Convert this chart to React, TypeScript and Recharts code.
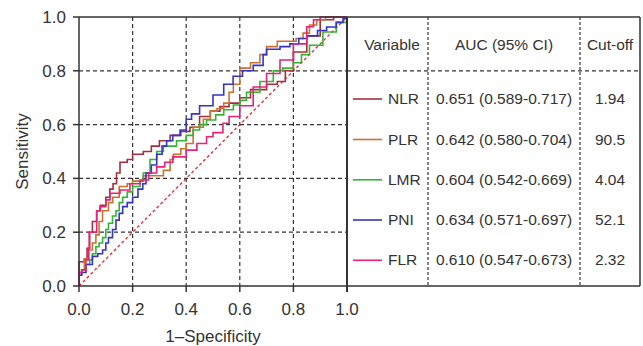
import React from 'react';
import { LineChart, Line, XAxis, YAxis, CartesianGrid } from 'recharts';

type Pt = { x: number; y: number };

// ROC points (1-specificity, sensitivity)
const nlr: Pt[] = [
  { x: 0, y: 0 }, { x: 0, y: 0.09 }, { x: 0.02, y: 0.1 }, { x: 0.03, y: 0.14 }, { x: 0.04, y: 0.2 },
  { x: 0.05, y: 0.24 }, { x: 0.066, y: 0.28 }, { x: 0.08, y: 0.3 }, { x: 0.1, y: 0.33 }, { x: 0.115, y: 0.36 },
  { x: 0.127, y: 0.38 }, { x: 0.14, y: 0.42 }, { x: 0.153, y: 0.46 }, { x: 0.18, y: 0.47 }, { x: 0.2, y: 0.49 },
  { x: 0.24, y: 0.5 }, { x: 0.27, y: 0.52 }, { x: 0.3, y: 0.54 }, { x: 0.34, y: 0.56 }, { x: 0.38, y: 0.575 },
  { x: 0.414, y: 0.59 }, { x: 0.45, y: 0.63 }, { x: 0.49, y: 0.65 }, { x: 0.526, y: 0.667 }, { x: 0.56, y: 0.68 },
  { x: 0.6, y: 0.7 }, { x: 0.64, y: 0.73 }, { x: 0.7, y: 0.75 }, { x: 0.74, y: 0.76 }, { x: 0.77, y: 0.8 },
  { x: 0.8, y: 0.87 }, { x: 0.85, y: 0.93 }, { x: 0.9, y: 0.99 }, { x: 0.95, y: 1 }, { x: 1, y: 1 },
];
const plr: Pt[] = [
  { x: 0, y: 0 }, { x: 0, y: 0.04 }, { x: 0.01, y: 0.06 }, { x: 0.02, y: 0.1 }, { x: 0.037, y: 0.134 },
  { x: 0.05, y: 0.16 }, { x: 0.063, y: 0.19 }, { x: 0.075, y: 0.24 }, { x: 0.088, y: 0.28 }, { x: 0.11, y: 0.31 },
  { x: 0.126, y: 0.33 }, { x: 0.15, y: 0.37 }, { x: 0.18, y: 0.38 }, { x: 0.2, y: 0.39 }, { x: 0.24, y: 0.41 },
  { x: 0.3, y: 0.41 }, { x: 0.315, y: 0.43 }, { x: 0.34, y: 0.47 }, { x: 0.352, y: 0.49 }, { x: 0.38, y: 0.51 },
  { x: 0.4, y: 0.53 }, { x: 0.426, y: 0.59 }, { x: 0.464, y: 0.62 }, { x: 0.49, y: 0.65 }, { x: 0.515, y: 0.66 },
  { x: 0.54, y: 0.68 }, { x: 0.56, y: 0.72 }, { x: 0.576, y: 0.75 }, { x: 0.6, y: 0.81 }, { x: 0.64, y: 0.83 },
  { x: 0.675, y: 0.86 }, { x: 0.7, y: 0.89 }, { x: 0.74, y: 0.91 }, { x: 0.81, y: 0.92 }, { x: 0.836, y: 0.94 },
  { x: 0.86, y: 0.97 }, { x: 0.887, y: 0.99 }, { x: 0.92, y: 1 }, { x: 1, y: 1 },
];
const lmr: Pt[] = [
  { x: 0, y: 0 }, { x: 0, y: 0.05 }, { x: 0.01, y: 0.06 }, { x: 0.025, y: 0.08 }, { x: 0.04, y: 0.097 },
  { x: 0.05, y: 0.12 }, { x: 0.063, y: 0.146 }, { x: 0.075, y: 0.16 }, { x: 0.088, y: 0.18 }, { x: 0.1, y: 0.21 },
  { x: 0.11, y: 0.233 }, { x: 0.125, y: 0.26 }, { x: 0.138, y: 0.28 }, { x: 0.15, y: 0.31 }, { x: 0.163, y: 0.33 },
  { x: 0.18, y: 0.35 }, { x: 0.2, y: 0.37 }, { x: 0.228, y: 0.39 }, { x: 0.24, y: 0.42 }, { x: 0.265, y: 0.47 },
  { x: 0.29, y: 0.5 }, { x: 0.315, y: 0.52 }, { x: 0.364, y: 0.54 }, { x: 0.4, y: 0.56 }, { x: 0.426, y: 0.58 },
  { x: 0.45, y: 0.6 }, { x: 0.476, y: 0.617 }, { x: 0.51, y: 0.636 }, { x: 0.54, y: 0.655 }, { x: 0.576, y: 0.673 },
  { x: 0.6, y: 0.69 }, { x: 0.625, y: 0.72 }, { x: 0.675, y: 0.76 }, { x: 0.725, y: 0.8 }, { x: 0.76, y: 0.81 },
  { x: 0.8, y: 0.83 }, { x: 0.83, y: 0.86 }, { x: 0.86, y: 0.895 }, { x: 0.91, y: 0.944 }, { x: 0.96, y: 0.98 },
  { x: 1, y: 1 },
];
const pni: Pt[] = [
  { x: 0, y: 0 }, { x: 0, y: 0.04 }, { x: 0.01, y: 0.05 }, { x: 0.026, y: 0.08 }, { x: 0.05, y: 0.11 },
  { x: 0.07, y: 0.12 }, { x: 0.088, y: 0.134 }, { x: 0.1, y: 0.16 }, { x: 0.11, y: 0.18 }, { x: 0.125, y: 0.21 },
  { x: 0.138, y: 0.245 }, { x: 0.15, y: 0.27 }, { x: 0.163, y: 0.295 }, { x: 0.18, y: 0.31 }, { x: 0.2, y: 0.33 },
  { x: 0.22, y: 0.36 }, { x: 0.238, y: 0.38 }, { x: 0.25, y: 0.42 }, { x: 0.27, y: 0.45 }, { x: 0.29, y: 0.49 },
  { x: 0.31, y: 0.52 }, { x: 0.327, y: 0.54 }, { x: 0.35, y: 0.56 }, { x: 0.377, y: 0.58 }, { x: 0.4, y: 0.62 },
  { x: 0.42, y: 0.64 }, { x: 0.45, y: 0.67 }, { x: 0.5, y: 0.71 }, { x: 0.54, y: 0.75 }, { x: 0.575, y: 0.78 },
  { x: 0.61, y: 0.8 }, { x: 0.65, y: 0.82 }, { x: 0.687, y: 0.86 }, { x: 0.7, y: 0.88 }, { x: 0.75, y: 0.89 },
  { x: 0.787, y: 0.9 }, { x: 0.82, y: 0.92 }, { x: 0.85, y: 0.93 }, { x: 0.89, y: 0.95 }, { x: 0.924, y: 0.963 },
  { x: 0.96, y: 0.98 }, { x: 0.985, y: 0.995 }, { x: 1, y: 1 },
];
const flr: Pt[] = [
  { x: 0, y: 0 }, { x: 0, y: 0.05 }, { x: 0.01, y: 0.06 }, { x: 0.026, y: 0.097 }, { x: 0.035, y: 0.14 },
  { x: 0.038, y: 0.2 }, { x: 0.055, y: 0.2 }, { x: 0.066, y: 0.28 }, { x: 0.078, y: 0.295 }, { x: 0.1, y: 0.32 },
  { x: 0.116, y: 0.345 }, { x: 0.153, y: 0.357 }, { x: 0.19, y: 0.38 }, { x: 0.228, y: 0.394 }, { x: 0.26, y: 0.42 },
  { x: 0.29, y: 0.443 }, { x: 0.32, y: 0.46 }, { x: 0.35, y: 0.48 }, { x: 0.4, y: 0.505 }, { x: 0.44, y: 0.53 },
  { x: 0.476, y: 0.555 }, { x: 0.5, y: 0.57 }, { x: 0.537, y: 0.605 }, { x: 0.56, y: 0.63 }, { x: 0.6, y: 0.67 },
  { x: 0.65, y: 0.74 }, { x: 0.7, y: 0.79 }, { x: 0.75, y: 0.84 }, { x: 0.8, y: 0.9 }, { x: 0.85, y: 0.964 },
  { x: 0.875, y: 0.99 }, { x: 0.9, y: 1 }, { x: 1, y: 1 },
];
const diagonal: Pt[] = [{ x: 0, y: 0 }, { x: 1, y: 1 }];

const ticks = [0, 0.2, 0.4, 0.6, 0.8, 1];

const variables = ['NLR', 'PLR', 'LMR', 'PNI', 'FLR'];
const aucs = [
  '0.651 (0.589-0.717)',
  '0.642 (0.580-0.704)',
  '0.604 (0.542-0.669)',
  '0.634 (0.571-0.697)',
  '0.610 (0.547-0.673)',
];
const cutoffs = ['1.94', '90.5', '4.04', '52.1', '2.32'];
const colors = ['#a3303c', '#c8742f', '#33b533', '#3535c4', '#e42478'];
const curves = [nlr, plr, lmr, pni, flr];

const W = 643;
const H = 346;
const left = 79;
const top = 17;
const plotRight = 347;
const plotBottom = 286;
const tableRight = 640;
const font = '"Liberation Sans", Arial, Helvetica, sans-serif';
const ink = '#333';

const yPix = (v: number) => top + (plotBottom - top) * (1 - v);

function Table() {
  const col1 = 428;
  const col2 = 580;
  const rowY = [99, 139.5, 179.8, 220, 260.3];
  return (
    <svg width={W} height={H} style={{ position: 'absolute', left: 0, top: 0, pointerEvents: 'none' }}>
      <g stroke={ink} fill="none">
        <line x1={left} y1={top} x2={tableRight} y2={top} strokeWidth={1.5} />
        <line x1={tableRight} y1={top} x2={tableRight} y2={plotBottom} strokeWidth={1.5} />
        <line x1={plotRight} y1={plotBottom} x2={tableRight} y2={plotBottom} strokeWidth={1.5} />
        <line x1={plotRight} y1={top} x2={plotRight} y2={plotBottom + 6} strokeWidth={2} />
        <line x1={plotRight} y1={yPix(0.8)} x2={tableRight} y2={yPix(0.8)} strokeWidth={1.2} strokeDasharray="4 3" />
        <line x1={col1} y1={top} x2={col1} y2={plotBottom} strokeWidth={1.2} strokeDasharray="3 2" />
        <line x1={col2} y1={top} x2={col2} y2={plotBottom} strokeWidth={1.2} strokeDasharray="3 2" />
      </g>
      <g fontFamily={font} fontSize={15.5} fill={ink}>
        <text x={392} y={44} textAnchor="middle" dominantBaseline="central">Variable</text>
        <text x={504} y={44} textAnchor="middle" dominantBaseline="central">AUC (95% CI)</text>
        <text x={610} y={44} textAnchor="middle" dominantBaseline="central">Cut-off</text>
        {variables.map((v, i) => (
          <g key={v}>
            <line x1={353} x2={382} y1={rowY[i]} y2={rowY[i]} stroke={colors[i]} strokeWidth={1.6} />
            <text x={388} y={rowY[i] - 0.5} dominantBaseline="central">{v}</text>
            <text x={504} y={rowY[i] - 0.5} textAnchor="middle" dominantBaseline="central">{aucs[i]}</text>
            <text x={610} y={rowY[i] - 0.5} textAnchor="middle" dominantBaseline="central">{cutoffs[i]}</text>
          </g>
        ))}
      </g>
    </svg>
  );
}

export default function App() {
  const tickStyle = { fontSize: 17, fill: ink, fontFamily: font };
  return (
    <div style={{ position: 'absolute', left: 0, top: 0, width: W, height: H, background: '#fff' }}>
      <LineChart
        width={W}
        height={H}
        margin={{ top, right: W - plotRight, bottom: 0, left: 0 }}
      >
        <CartesianGrid stroke={ink} strokeDasharray="4 3" strokeWidth={1.2} verticalPoints={[]} horizontalPoints={[]}
          horizontalValues={[0.2, 0.4, 0.6, 0.8]} verticalValues={[0.2, 0.4, 0.6, 0.8]} />
        <XAxis
          type="number"
          dataKey="x"
          domain={[0, 1]}
          ticks={ticks}
          tickFormatter={(v: number) => v.toFixed(1)}
          height={H - plotBottom}
          stroke={ink}
          strokeWidth={1.5}
          tickSize={6}
          tickMargin={11}
          tick={tickStyle}
          label={{ value: '1\u2013Specificity', position: 'insideBottom', offset: 4, style: { fontSize: 17, fill: ink, fontFamily: font } }}
        />
        <YAxis
          type="number"
          dataKey="y"
          domain={[0, 1]}
          ticks={ticks}
          tickFormatter={(v: number) => v.toFixed(1)}
          width={left}
          stroke={ink}
          strokeWidth={1.5}
          tickSize={6}
          tickMargin={7}
          tick={tickStyle}
          label={{ value: 'Sensitivity', angle: -90, position: 'insideLeft', offset: 22, style: { fontSize: 17, fill: ink, fontFamily: font, textAnchor: 'middle' } }}
        />
        <Line data={diagonal} dataKey="y" type="linear" stroke="#e8262a" strokeWidth={1.3} strokeDasharray="3 2.5" dot={false} isAnimationActive={false} />
        {curves.map((c, i) => (
          <Line key={variables[i]} data={c} dataKey="y" type="stepAfter" stroke={colors[i]} strokeWidth={1.6} dot={false} isAnimationActive={false} />
        ))}
      </LineChart>
      <Table />
    </div>
  );
}
